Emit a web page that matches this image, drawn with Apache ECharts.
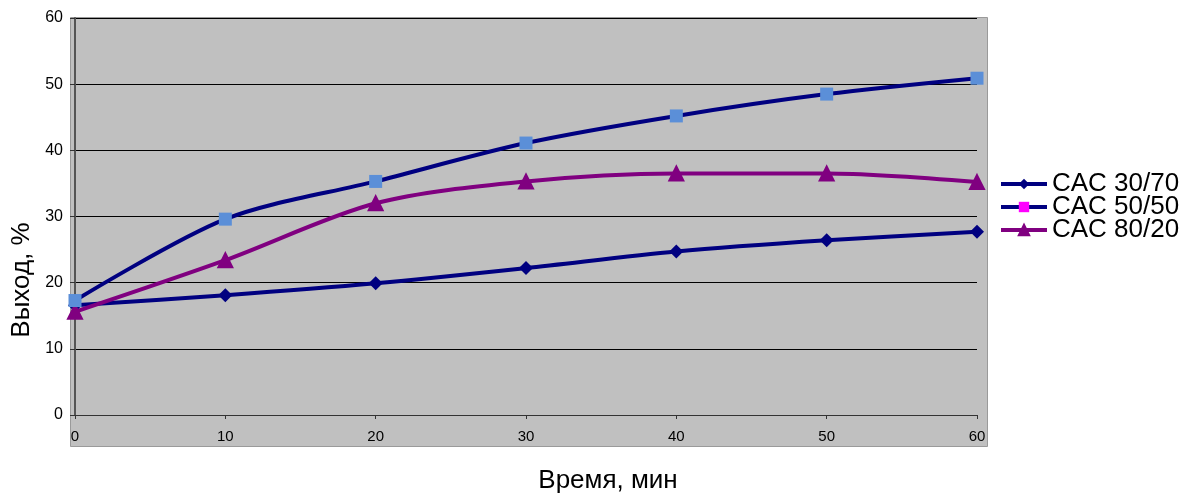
<!DOCTYPE html>
<html>
<head>
<meta charset="utf-8">
<script src="https://cdn.jsdelivr.net/npm/echarts@6/dist/echarts.min.js"></script>
<style>html,body{margin:0;padding:0;background:#fff;}#c{width:1182px;height:493px;}</style>
</head>
<body>
<div id="c"></div>
<script>
const times = [0, 10, 20, 30, 40, 50, 60];
const cac3070 = [16.6, 18.1, 19.9, 22.2, 24.7, 26.4, 27.7];
const cac5050 = [17.3, 29.6, 35.3, 41.1, 45.2, 48.5, 50.9];
const cac8020 = [15.6, 23.4, 32.0, 35.3, 36.5, 36.5, 35.2];
const seriesNames = ['CAC 30/70', 'CAC 50/50', 'CAC 80/20'];
const xTicks = [0, 10, 20, 30, 40, 50, 60];
const yTicks = [0, 10, 20, 30, 40, 50, 60];

const pairs = v => times.map((t, i) => [t, v[i]]);
const FONT = 'Liberation Sans, Arial, sans-serif';

const chart = echarts.init(document.getElementById('c'));
chart.setOption({
  animation: false,
  backgroundColor: '#ffffff',
  grid: { left: 75, right: 205, top: 18, bottom: 78, containLabel: false },
  graphic: [
    { type: 'rect', z: -100, shape: { x: 70.5, y: 17.5, width: 917, height: 429 },
      style: { fill: '#C0C0C0', stroke: '#9a9a9a', lineWidth: 1 } },
    { type: 'text', x: 22, y: 280, rotation: Math.PI / 2, z: 10,
      style: { text: 'Выход, %', font: '26px ' + FONT, fill: '#000', align: 'center', verticalAlign: 'middle' } },
    { type: 'text', x: 608, y: 481, z: 10,
      style: { text: 'Время, мин', font: '26px ' + FONT, fill: '#000', align: 'center', verticalAlign: 'middle' } }
  ],
  legend: {
    orient: 'vertical', left: 999, top: 171, padding: 0,
    itemWidth: 46, itemHeight: 13, itemGap: -3,
    lineStyle: { width: 4 },
    textStyle: { fontFamily: FONT, fontSize: 26, color: '#000', lineHeight: 26, padding: [0, 0, 0, 0] },
    data: [
      { name: seriesNames[0] },
      { name: seriesNames[1], itemStyle: { color: '#FF00FF' } },
      { name: seriesNames[2] }
    ]
  },
  xAxis: {
    type: 'value', min: xTicks[0], max: xTicks[xTicks.length - 1], interval: 10,
    axisLine: { lineStyle: { color: '#333', width: 1 } },
    axisTick: { show: true, inside: false, length: 4, lineStyle: { color: '#333' } },
    axisLabel: { fontFamily: FONT, fontSize: 15, color: '#000', margin: 14 },
    splitLine: { show: false }
  },
  yAxis: {
    type: 'value', min: yTicks[0], max: yTicks[yTicks.length - 1], interval: 10,
    axisLine: { show: true, lineStyle: { color: '#555', width: 2 } },
    axisTick: { show: true, inside: false, length: 5, lineStyle: { color: '#333' } },
    axisLabel: { fontFamily: FONT, fontSize: 16, color: '#000', margin: 12 },
    splitLine: { show: true, lineStyle: { color: '#000', width: 1 } }
  },
  series: [
    { name: seriesNames[0], type: 'line', data: pairs(cac3070), smooth: 0.3,
      symbol: 'diamond', symbolSize: 14,
      lineStyle: { color: '#000080', width: 4 }, itemStyle: { color: '#000080' }, z: 3 },
    { name: seriesNames[1], type: 'line', data: pairs(cac5050), smooth: 0.3,
      symbol: 'rect', symbolSize: 13,
      lineStyle: { color: '#000080', width: 4 }, itemStyle: { color: '#5B8FD8' }, z: 4 },
    { name: seriesNames[2], type: 'line', data: pairs(cac8020), smooth: 0.3,
      symbol: 'triangle', symbolSize: 14,
      lineStyle: { color: '#800080', width: 4 }, itemStyle: { color: '#800080', borderColor: '#800080', borderWidth: 2 }, z: 3 }
  ]
});
</script>
</body>
</html>
